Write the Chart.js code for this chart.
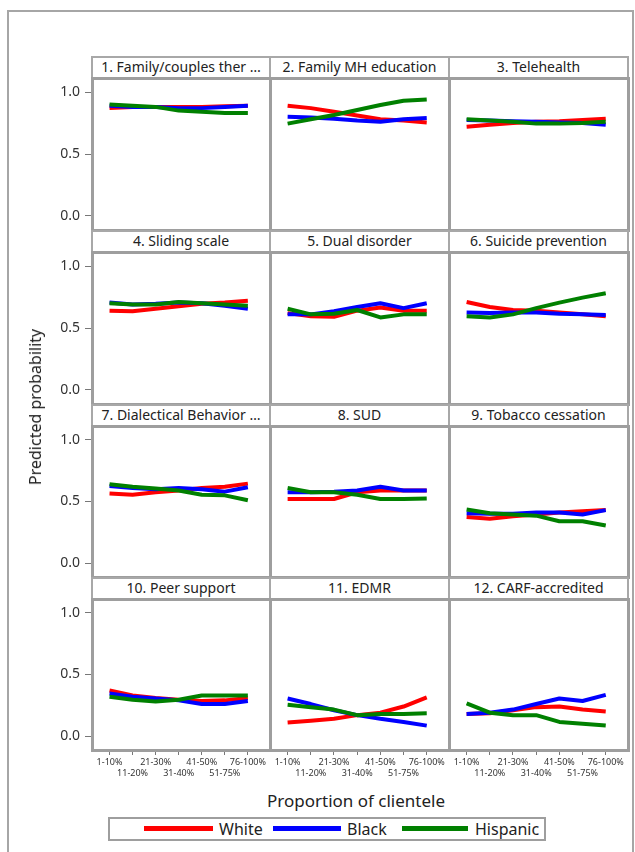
<!DOCTYPE html>
<html>
<head>
<meta charset="utf-8">
<script src="https://cdn.jsdelivr.net/npm/chart.js@4.4.1/dist/chart.umd.min.js"></script>
<style>
  body { margin: 0; background: #fff; font-family: "Noto Sans", sans-serif; }
  #page { position: relative; width: 635px; height: 852px; overflow: hidden; background: #fff; }
  .abs { position: absolute; }
  .frame { box-sizing: border-box; border: 2px solid #a6a6a6; }
  .head { box-sizing: border-box; border: 2px solid #a8a8a8; background: #fff; font-size: 14px; color: #222;
          text-align: center; line-height: 18px; white-space: nowrap; overflow: hidden; }
  .plot { box-sizing: border-box; border: 3px solid #9e9e9e; pointer-events: none; }
  .lbl { color: #222; white-space: nowrap; }
  .key { height: 5px; }
</style>
</head>
<body>
<div id="page">
  <div class="abs frame" style="left:7px;top:10px;width:627px;height:860px;"></div>
</div>
<script>
const categories = ['1-10%', '11-20%', '21-30%', '31-40%', '41-50%', '51-75%', '76-100%'];
const yTicks = [0, 0.5, 1.0];

const titles = [
  '1. Family/couples ther \u2026', '2. Family MH education', '3. Telehealth',
  '4. Sliding scale', '5. Dual disorder', '6. Suicide prevention',
  '7. Dialectical Behavior \u2026', '8. SUD', '9. Tobacco cessation',
  '10. Peer support', '11. EDMR', '12. CARF-accredited'
];

const white = [
  [0.87, 0.88, 0.88, 0.88, 0.88, 0.885, 0.89],
  [0.89, 0.87, 0.84, 0.81, 0.78, 0.77, 0.755],
  [0.72, 0.735, 0.75, 0.76, 0.765, 0.775, 0.785],
  [0.64, 0.635, 0.655, 0.675, 0.695, 0.705, 0.72],
  [0.62, 0.595, 0.59, 0.64, 0.665, 0.64, 0.64],
  [0.71, 0.67, 0.645, 0.64, 0.625, 0.61, 0.595],
  [0.565, 0.555, 0.575, 0.59, 0.61, 0.62, 0.645],
  [0.52, 0.52, 0.52, 0.575, 0.59, 0.59, 0.59],
  [0.375, 0.36, 0.38, 0.395, 0.41, 0.42, 0.43],
  [0.37, 0.33, 0.31, 0.295, 0.285, 0.29, 0.31],
  [0.11, 0.125, 0.14, 0.17, 0.19, 0.24, 0.315],
  [0.18, 0.185, 0.21, 0.235, 0.24, 0.215, 0.20]
];
const black = [
  [0.89, 0.88, 0.88, 0.87, 0.87, 0.88, 0.89],
  [0.80, 0.795, 0.785, 0.77, 0.76, 0.78, 0.79],
  [0.775, 0.77, 0.765, 0.76, 0.755, 0.75, 0.735],
  [0.705, 0.69, 0.695, 0.705, 0.70, 0.68, 0.655],
  [0.61, 0.61, 0.635, 0.67, 0.70, 0.66, 0.70],
  [0.625, 0.62, 0.625, 0.625, 0.615, 0.61, 0.605],
  [0.625, 0.61, 0.60, 0.61, 0.60, 0.58, 0.615],
  [0.575, 0.575, 0.58, 0.59, 0.62, 0.59, 0.59],
  [0.405, 0.40, 0.40, 0.41, 0.41, 0.395, 0.43],
  [0.345, 0.32, 0.305, 0.29, 0.26, 0.26, 0.285],
  [0.305, 0.26, 0.21, 0.17, 0.14, 0.115, 0.085],
  [0.18, 0.19, 0.215, 0.26, 0.305, 0.285, 0.335]
];
const hispanic = [
  [0.90, 0.89, 0.88, 0.85, 0.84, 0.83, 0.83],
  [0.745, 0.78, 0.815, 0.855, 0.895, 0.93, 0.94],
  [0.78, 0.77, 0.76, 0.745, 0.745, 0.75, 0.76],
  [0.70, 0.69, 0.69, 0.71, 0.70, 0.69, 0.68],
  [0.655, 0.61, 0.615, 0.645, 0.585, 0.61, 0.61],
  [0.595, 0.585, 0.61, 0.66, 0.705, 0.745, 0.78],
  [0.64, 0.62, 0.605, 0.59, 0.555, 0.55, 0.51],
  [0.61, 0.575, 0.575, 0.555, 0.52, 0.52, 0.525],
  [0.435, 0.405, 0.395, 0.385, 0.34, 0.34, 0.305],
  [0.32, 0.295, 0.28, 0.295, 0.33, 0.33, 0.33],
  [0.255, 0.235, 0.215, 0.17, 0.18, 0.18, 0.185],
  [0.265, 0.19, 0.17, 0.17, 0.115, 0.10, 0.085]
];

const groups = [
  { name: 'White', color: '#ff0000', values: white, order: 3 },
  { name: 'Black', color: '#0000ff', values: black, order: 2 },
  { name: 'Hispanic', color: '#008000', values: hispanic, order: 1 }
];

// panel grid
const colX = [92, 270, 449, 628];
const headTop = [56, 230, 404, 577];
const headH = 22;
const plotBottom = [230, 404, 577, 750];
const yAxisW = 52, xAxisH = 34;
const font = '"Noto Sans", sans-serif';

const page = document.getElementById('page');
function add(cls, style, text) {
  const d = document.createElement('div');
  d.className = 'abs ' + cls;
  Object.assign(d.style, style);
  if (text) d.textContent = text;
  page.appendChild(d);
  return d;
}

for (let p = 0; p < 12; p++) {
  const r = Math.floor(p / 3), c = p % 3;
  const x0 = colX[c], x1 = colX[c + 1];
  const top = headTop[r] + headH, bottom = plotBottom[r];
  const left = c === 0;
  const low = r === 3;

  const cv = document.createElement('canvas');
  const w = x1 - x0 + (left ? yAxisW : 0);
  const h = bottom - top + (low ? xAxisH : 0);
  cv.width = w; cv.height = h;
  cv.className = 'abs';
  Object.assign(cv.style, { left: (x0 - (left ? yAxisW : 0)) + 'px', top: top + 'px', width: w + 'px', height: h + 'px' });
  page.appendChild(cv);

  new Chart(cv, {
    type: 'line',
    data: {
      datasets: groups.map(g => ({
        label: g.name,
        data: g.values[p].map((v, i) => ({ x: i, y: v })),
        borderColor: g.color,
        borderWidth: 4,
        pointRadius: 0,
        tension: 0,
        fill: false,
        order: g.order,
        borderJoinStyle: 'round'
      }))
    },
    options: {
      responsive: false,
      animation: false,
      events: [],
      layout: { padding: 0 },
      plugins: { legend: { display: false }, tooltip: { enabled: false } },
      scales: {
        x: {
          type: 'linear', min: -0.76, max: 6.96, display: low,
          afterBuildTicks: s => { s.ticks = categories.map((_, i) => ({ value: i })); },
          afterFit: s => { if (low) { s.height = xAxisH; s.paddingLeft = 0; s.paddingRight = 0; } },
          grid: { drawOnChartArea: false, tickLength: 5, color: '#777' },
          border: { display: false },
          ticks: {
            autoSkip: false, maxRotation: 0, minRotation: 0, padding: 2,
            font: { size: 9, family: font }, color: '#333',
            callback: (v, i) => (i % 2 ? ['', categories[i]] : categories[i])
          }
        },
        y: {
          min: -0.113, max: 1.113, display: left,
          afterBuildTicks: s => { s.ticks = yTicks.map(v => ({ value: v })); },
          afterFit: s => { if (left) { s.width = yAxisW; s.paddingTop = 0; s.paddingBottom = 0; } },
          grid: { drawOnChartArea: false, tickLength: 7, color: '#777' },
          border: { display: false },
          ticks: { padding: 5, font: { size: 14, family: font }, color: '#333', callback: v => v.toFixed(1) }
        }
      }
    }
  });

  add('head', { left: (x0 - 1) + 'px', top: headTop[r] + 'px', width: (x1 - x0 + 2) + 'px', height: (headH + 1) + 'px' }, titles[p]);
  add('plot', { left: (x0 - 1) + 'px', top: (top - 1) + 'px', width: (x1 - x0 + 3) + 'px', height: (bottom - top + 3) + 'px' });
}

// axis titles
add('lbl', { left: '356px', top: '800px', fontSize: '17px', transform: 'translate(-50%,-50%)' }, 'Proportion of clientele');
add('lbl', { left: '35px', top: '407px', fontSize: '16px', transform: 'translate(-50%,-50%) rotate(-90deg)' }, 'Predicted probability');

// legend
add('frame', { left: '108px', top: '817px', width: '438px', height: '24px', border: '2px solid #9e9e9e' });
const keys = [[144, 213, 219], [273, 341, 347], [402, 468, 475]];
groups.forEach((g, i) => {
  const k = keys[i];
  add('key', { left: k[0] + 'px', top: '826px', width: (k[1] - k[0]) + 'px', background: g.color });
  add('lbl', { left: k[2] + 'px', top: '829px', fontSize: '16px', transform: 'translateY(-50%)' }, g.name);
});
</script>
</body>
</html>
